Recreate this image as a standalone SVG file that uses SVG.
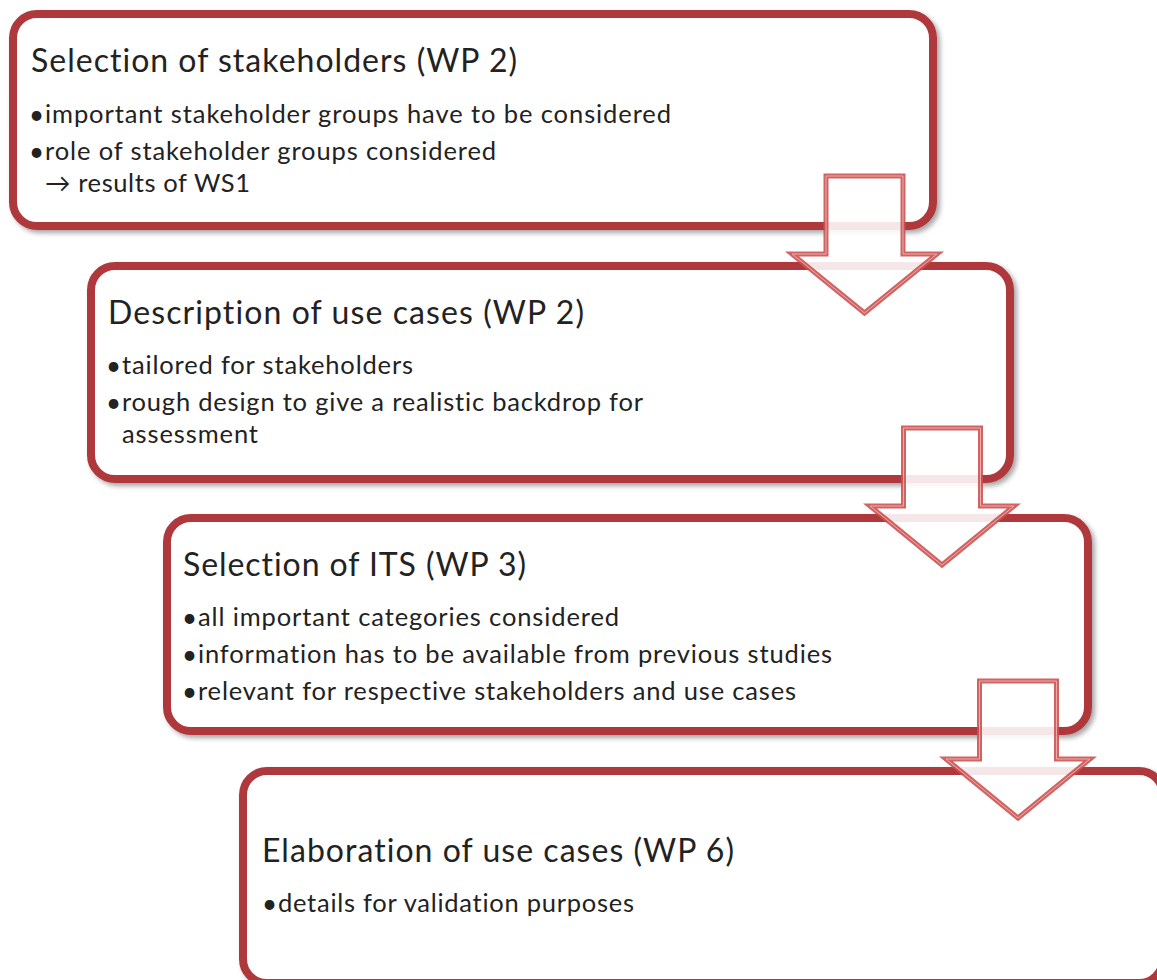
<svg xmlns="http://www.w3.org/2000/svg" width="1157" height="980" viewBox="0 0 1157 980">
  <defs>
    <filter id="shadow" x="-5%" y="-5%" width="110%" height="115%">
      <feDropShadow dx="3" dy="3" stdDeviation="2.5" flood-color="#000" flood-opacity="0.35"/>
    </filter>
  </defs>
  <style>
    text { font-variant-ligatures: none; }
    .box { fill: #ffffff; stroke: #ae383b; stroke-width: 8; filter: url(#shadow); }
    .title { font-family: Lato, "Liberation Sans", sans-serif; font-size: 32px; fill: #222; }
    .item { font-family: Lato, "Liberation Sans", sans-serif; font-size: 25.5px; fill: #222; }
    .bullet { font-family: Lato, "Liberation Sans", sans-serif; font-size: 26px; fill: #222; }
    .arrow-out { fill: #ffffff; fill-opacity: 0.88; stroke: #cc5252; stroke-width: 5; stroke-opacity: 0.9; stroke-linejoin: miter; }
    .arrow-in { fill: none; stroke: #eeaaaa; stroke-width: 1; stroke-linejoin: miter; }
  </style>
  <rect width="1157" height="980" fill="#ffffff"/>

  <g id="node-stakeholders">
    <rect class="box" x="13" y="14" width="920" height="212" rx="24" ry="24"/>
    <text class="title" x="31" y="72" textLength="486">Selection of stakeholders (WP 2)</text>
    <text class="bullet" x="29" y="123.5">•</text>
    <text class="item" x="45" y="122.5" textLength="626">important stakeholder groups have to be considered</text>
    <text class="bullet" x="29" y="161">•</text>
    <text class="item" x="45" y="160" textLength="451">role of stakeholder groups considered</text>
    <text class="item" x="45" y="192" textLength="205">→ results of WS1</text>
  </g>

  <g id="node-usecases-description">
    <rect class="box" x="91" y="266" width="919" height="213" rx="24" ry="24"/>
    <text class="title" x="108" y="323.5" textLength="476">Description of use cases (WP 2)</text>
    <text class="bullet" x="106" y="375">•</text>
    <text class="item" x="122" y="374" textLength="291">tailored for stakeholders</text>
    <text class="bullet" x="106" y="412">•</text>
    <text class="item" x="122" y="411" textLength="521">rough design to give a realistic backdrop for</text>
    <text class="item" x="122" y="443" textLength="136">assessment</text>
  </g>

  <g id="node-its">
    <rect class="box" x="167" y="518" width="921" height="213" rx="24" ry="24"/>
    <text class="title" x="183" y="575.5" textLength="343">Selection of ITS (WP 3)</text>
    <text class="bullet" x="182" y="627">•</text>
    <text class="item" x="198" y="626" textLength="421">all important categories considered</text>
    <text class="bullet" x="182" y="664">•</text>
    <text class="item" x="198" y="663" textLength="634">information has to be available from previous studies</text>
    <text class="bullet" x="182" y="701">•</text>
    <text class="item" x="198" y="700" textLength="598">relevant for respective stakeholders and use cases</text>
  </g>

  <g id="node-usecases-elaboration">
    <rect class="box" x="243" y="771" width="920" height="212" rx="24" ry="24"/>
    <text class="title" x="262" y="862" textLength="472">Elaboration of use cases (WP 6)</text>
    <text class="bullet" x="262" y="913">•</text>
    <text class="item" x="278" y="912" textLength="356">details for validation purposes</text>
  </g>

  <g id="connectors">
    <g id="arrow-1">
      <polygon class="arrow-out" points="826,176 903,176 903,254 937,254 864.5,313 792,254 826,254"/>
      <polygon class="arrow-in" points="826,176 903,176 903,254 937,254 864.5,313 792,254 826,254"/>
    </g>
    <g id="arrow-2">
      <polygon class="arrow-out" points="903.5,428 980.5,428 980.5,506 1014,506 942,565 870,506 903.5,506"/>
      <polygon class="arrow-in" points="903.5,428 980.5,428 980.5,506 1014,506 942,565 870,506 903.5,506"/>
    </g>
    <g id="arrow-3">
      <polygon class="arrow-out" points="979.5,681 1056.5,681 1056.5,759 1090,759 1018,818 946,759 979.5,759"/>
      <polygon class="arrow-in" points="979.5,681 1056.5,681 1056.5,759 1090,759 1018,818 946,759 979.5,759"/>
    </g>
  </g>
</svg>
